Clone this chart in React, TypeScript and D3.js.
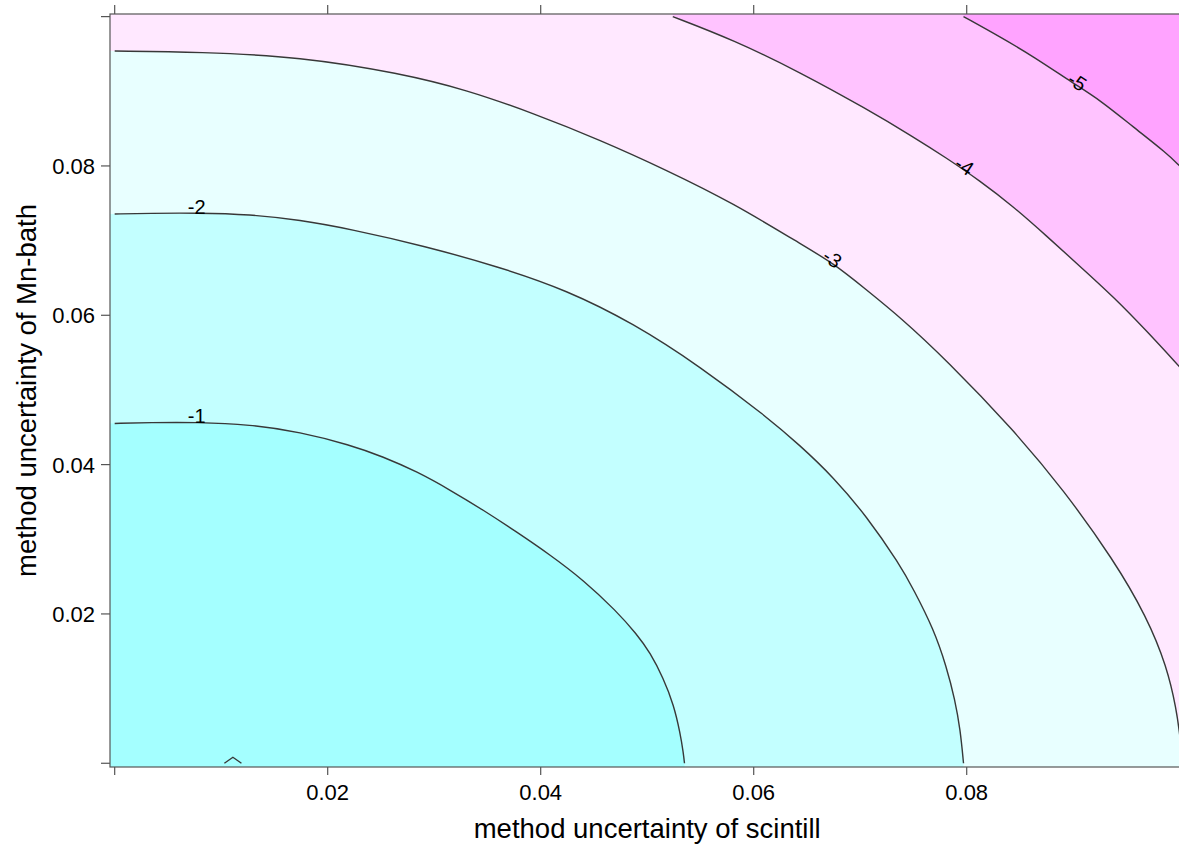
import React from "react";
import * as d3 from "d3";

// Contour levels of the surface
const LEVELS = [-1, -2, -3, -4, -5];

// Contour lines as [scintill uncertainty, Mn-bath uncertainty] pairs
const CONTOUR_M1: [number, number][] = [
  [0.0, 0.04551], [0.0033, 0.04563], [0.0077, 0.04568], [0.0127, 0.04537],
  [0.0174, 0.04437], [0.0221, 0.04263], [0.0252, 0.04106], [0.0284, 0.03905],
  [0.0315, 0.0366], [0.0346, 0.03392], [0.0377, 0.03102], [0.0409, 0.0279],
  [0.044, 0.02455], [0.0471, 0.0204], [0.049, 0.01732], [0.0503, 0.01477],
  [0.0515, 0.01142], [0.0525, 0.00781], [0.0531, 0.00402], [0.0534, 0.00134],
  [0.0535, 0.0],
];
const CONTOUR_M2: [number, number][] = [
  [0.0, 0.07356], [0.0033, 0.07366], [0.0077, 0.0737], [0.0127, 0.07352],
  [0.0174, 0.07276], [0.0221, 0.07155], [0.0291, 0.06928], [0.0362, 0.06643],
  [0.0424, 0.06339], [0.0487, 0.05893], [0.055, 0.05311], [0.0612, 0.04642],
  [0.0643, 0.04263], [0.0675, 0.0383], [0.0706, 0.03308], [0.0737, 0.02665],
  [0.075, 0.0233], [0.0769, 0.01795], [0.0781, 0.01294], [0.0789, 0.00849],
  [0.0794, 0.00447], [0.0797, 0.0],
];
const CONTOUR_M3: [number, number][] = [
  [0.0, 0.09539], [0.008, 0.09526], [0.0174, 0.09463], [0.0268, 0.09241],
  [0.0331, 0.09017], [0.0393, 0.08705], [0.0456, 0.08347], [0.0518, 0.07946],
  [0.0581, 0.075], [0.0643, 0.06964], [0.0675, 0.06696], [0.0706, 0.06339],
  [0.0737, 0.05981], [0.0781, 0.05401], [0.0844, 0.04464], [0.0891, 0.0366],
  [0.0938, 0.02723], [0.0969, 0.01963], [0.0988, 0.01294], [0.0997, 0.00714],
  [0.1, 0.00379],
];
const CONTOUR_M4: [number, number][] = [
  [0.0524, 0.1], [0.0581, 0.09687], [0.0643, 0.09258], [0.0706, 0.08763],
  [0.075, 0.08388], [0.0781, 0.08106], [0.0812, 0.07805], [0.0844, 0.07454],
  [0.0875, 0.07062], [0.0906, 0.0666], [0.0938, 0.06245], [0.0969, 0.0579],
  [0.1, 0.05308],
];
const CONTOUR_M5: [number, number][] = [
  [0.0797, 0.1], [0.0831, 0.09731], [0.0863, 0.09463], [0.09, 0.09107],
  [0.0925, 0.08885], [0.0956, 0.08526], [0.0988, 0.08169], [0.1, 0.07999],
];
// small loop of the zero level touching the lower edge
const CONTOUR_0: [number, number][] = [
  [0.0103, 0.0], [0.0111, 0.0008], [0.0119, 0.0],
];

const CONTOURS = [CONTOUR_M1, CONTOUR_M2, CONTOUR_M3, CONTOUR_M4, CONTOUR_M5];
// scintill value at which each contour carries its level label
const LABEL_AT = [0.0077, 0.0077, 0.0672, 0.0796, 0.0902];

// band colours: above -1, -1..-2, -2..-3, -3..-4, -4..-5, below -5
const BAND_COLORS = ["#a4ffff", "#c3ffff", "#e8ffff", "#ffe8ff", "#ffc3ff", "#ffa3ff"];

const X_TICKS = [0, 0.02, 0.04, 0.06, 0.08, 0.1];
const X_TICK_LABELS = ["", "0.02", "0.04", "0.06", "0.08", ""];
const Y_TICKS = [0, 0.02, 0.04, 0.06, 0.08, 0.1];
const Y_TICK_LABELS = ["", "0.02", "0.04", "0.06", "0.08", ""];

const X_TITLE = "method uncertainty of scintill";
const Y_TITLE = "method uncertainty of Mn-bath";

const W = 1179;
const H = 846;
const FONT = "'Liberation Sans', Arial, Helvetica, sans-serif";

export default function App() {
  const X_MIN = -0.00044, X_MAX = 0.10044;
  const Y_MIN = -0.0005, Y_MAX = 0.10035;
  const left = 110, right = 1184.4, top = 14, bottom = 767;

  const xs = d3.scaleLinear().domain([X_MIN, X_MAX]).range([left, right]);
  const ys = d3.scaleLinear().domain([Y_MIN, Y_MAX]).range([bottom, top]);

  const line = d3
    .line<[number, number]>()
    .x((d) => xs(d[0]))
    .y((d) => ys(d[1]))
    .curve(d3.curveBasis);

  const caret = d3
    .line<[number, number]>()
    .x((d) => xs(d[0]))
    .y((d) => ys(d[1]));

  const straight = (pts: [number, number][]) =>
    pts.map((p) => `L${xs(p[0])},${ys(p[1])}`).join("");

  // region on the low-left side of a contour, closed along the panel border
  const regionPath = (pts: [number, number][]) => {
    const s = pts[0];
    const e = pts[pts.length - 1];
    const pre: [number, number][] =
      s[1] >= 0.1 - 1e-9 ? [[X_MIN, Y_MAX], [s[0], Y_MAX]] : [[X_MIN, s[1]]];
    const post: [number, number][] =
      e[1] <= 1e-9 ? [[e[0], Y_MIN]] : [[X_MAX, e[1]], [X_MAX, Y_MIN]];
    const curve = (line(pts) || "").replace(/^M/, "L");
    return `M${xs(X_MIN)},${ys(Y_MIN)}${straight(pre)}${curve}${straight(post)}Z`;
  };

  // label anchor on the contour at x = at, angle from the neighbouring points
  const labelFor = (pts: [number, number][], at: number) => {
    let best = 0;
    pts.forEach((p, i) => {
      if (Math.abs(p[0] - at) < Math.abs(pts[best][0] - at)) best = i;
    });
    const a = pts[Math.max(0, best - 1)];
    const b = pts[Math.min(pts.length - 1, best + 1)];
    const dx = xs(b[0]) - xs(a[0]);
    const dy = ys(b[1]) - ys(a[1]);
    let ang = (Math.atan2(dy, dx) * 180) / Math.PI;
    if (Math.abs(ang) < 4) ang = 0;
    const i0 = pts.findIndex((p) => p[0] >= at);
    const px = xs(at);
    let py: number;
    if (i0 > 0) {
      const p0 = pts[i0 - 1], p1 = pts[i0];
      const t = (at - p0[0]) / (p1[0] - p0[0] || 1);
      py = ys(p0[1] + t * (p1[1] - p0[1]));
    } else {
      py = ys(pts[Math.max(i0, 0)][1]);
    }
    return { px, py, ang };
  };

  const strokeCol = "#383838";

  return (
    <svg
      width={W}
      height={H}
      style={{ position: "absolute", left: 0, top: 0, display: "block", background: "#fff" }}
      fontFamily={FONT}
    >
      <defs>
        <clipPath id="panel">
          <rect x={left} y={top} width={right - left} height={bottom - top} />
        </clipPath>
      </defs>

      <g clipPath="url(#panel)">
        <rect x={left} y={top} width={right - left} height={bottom - top} fill={BAND_COLORS[5]} />
        {[...CONTOURS].reverse().map((c, i) => (
          <path key={`r${i}`} d={regionPath(c)} fill={BAND_COLORS[4 - i]} stroke="none" />
        ))}
        {CONTOURS.map((c, i) => (
          <path key={`l${i}`} d={line(c) || ""} fill="none" stroke={strokeCol} strokeWidth={1.4} />
        ))}
        <path d={caret(CONTOUR_0) || ""} fill="none" stroke={strokeCol} strokeWidth={1.4} />
        {CONTOURS.map((c, i) => {
          const { px, py, ang } = labelFor(c, LABEL_AT[i]);
          const off = ang === 0 ? 6 : 3.5;
          const rad = (ang * Math.PI) / 180;
          const ox = px + off * Math.sin(rad);
          const oy = py - off * Math.cos(rad);
          return (
            <text
              key={`t${i}`}
              transform={`translate(${ox},${oy}) rotate(${ang})`}
              textAnchor="middle"
              dominantBaseline="central"
              fontSize={20}
              fill="#000"
            >
              {String(LEVELS[i])}
            </text>
          );
        })}
      </g>

      {/* panel frame */}
      <rect x={left} y={top} width={right - left} height={bottom - top} fill="none" stroke="#555" strokeWidth={1.2} />

      {/* bottom and top ticks */}
      {X_TICKS.map((v, i) => (
        <g key={`xt${i}`}>
          <line x1={xs(v)} x2={xs(v)} y1={bottom} y2={bottom + 8} stroke="#555" strokeWidth={1.2} />
          <line x1={xs(v)} x2={xs(v)} y1={top} y2={top - 9} stroke="#555" strokeWidth={1.2} />
          {X_TICK_LABELS[i] && (
            <text x={xs(v)} y={800} textAnchor="middle" fontSize={22} fill="#000">
              {X_TICK_LABELS[i]}
            </text>
          )}
        </g>
      ))}

      {/* left ticks */}
      {Y_TICKS.map((v, i) => (
        <g key={`yt${i}`}>
          <line x1={left} x2={left - 9} y1={ys(v)} y2={ys(v)} stroke="#555" strokeWidth={1.2} />
          {Y_TICK_LABELS[i] && (
            <text x={95} y={ys(v)} dy="0.36em" textAnchor="end" fontSize={22} fill="#000">
              {Y_TICK_LABELS[i]}
            </text>
          )}
        </g>
      ))}

      <text x={(left + right) / 2} y={838} textAnchor="middle" fontSize={27.5} fill="#000">
        {X_TITLE}
      </text>
      <text
        transform={`translate(36,${(top + bottom) / 2}) rotate(-90)`}
        textAnchor="middle"
        fontSize={27.5}
        fill="#000"
      >
        {Y_TITLE}
      </text>
    </svg>
  );
}
